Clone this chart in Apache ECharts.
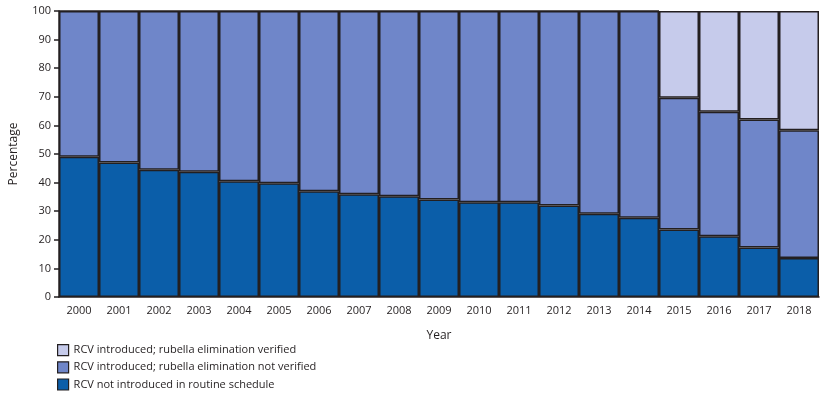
<!DOCTYPE html>
<html><head><meta charset="utf-8">
<script src="https://cdn.jsdelivr.net/npm/echarts@6/dist/echarts.min.js"></script>
<style>html,body{margin:0;padding:0;background:#fff}#c{width:829px;height:398px}</style>
</head><body><div id="c"></div>
<script>
const years = ['2000','2001','2002','2003','2004','2005','2006','2007','2008','2009','2010','2011','2012','2013','2014','2015','2016','2017','2018'];
const notIntroduced = [49,47,44.5,43.8,40.5,39.8,37,35.9,35.2,34.1,33.1,33.1,32,29.1,27.7,23.6,21.2,17.3,13.6];
const verified = [0,0,0,0,0,0,0,0,0,0,0,0,0,0,0,30.3,35.2,37.9,41.7];
const notVerified = [51,53,55.5,56.2,59.5,60.2,63,64.1,64.8,65.9,66.9,66.9,68,70.9,72.3,46.1,43.6,44.8,44.7];
const yTicks = [0,10,20,30,40,50,60,70,80,90,100];
const names = ['RCV not introduced in routine schedule','RCV introduced; rubella elimination not verified','RCV introduced; rubella elimination verified'];
const legendNames = [names[2], names[1], names[0]];
const colors = ['#0b5ea9','#6f86c9','#c6cbeb'];
const ink = '#231f20';
const font = 'Open Sans';
const chart = echarts.init(document.getElementById('c'));
function s(name, data, color){
  return {name, type:'bar', stack:'t', data, barCategoryGap:'0%', barWidth:'100%',
    itemStyle:{color, borderColor:ink, borderWidth:1.5}, emphasis:{disabled:true}, animation:false};
}
chart.setOption({
  animation:false,
  textStyle:{fontFamily:font},
  grid:{left:58, right:10, top:11, bottom:101, containLabel:false},
  legend:{orient:'vertical', left:57, top:344, height:54, padding:0, itemWidth:11, itemHeight:11, itemGap:5,
    data:legendNames, icon:'rect', selectedMode:false,
    textStyle:{fontFamily:font, fontSize:11, color:ink},
    itemStyle:{borderColor:ink, borderWidth:1.2}},
  xAxis:{type:'category', data:years, name:'Year', nameLocation:'middle', nameGap:33,
    nameTextStyle:{fontFamily:font, fontSize:12, color:ink},
    axisLine:{lineStyle:{color:ink, width:1.5}},
    axisTick:{alignWithLabel:true, length:5, lineStyle:{color:ink, width:1.5}},
    axisLabel:{fontFamily:font, fontSize:11, color:ink, margin:8}},
  yAxis:{type:'value', min:0, max:100, interval:10, name:'Percentage', nameLocation:'middle', nameGap:39,
    nameTextStyle:{fontFamily:font, fontSize:12, color:ink},
    axisLine:{show:true, lineStyle:{color:ink, width:1.5}},
    axisTick:{show:true, length:5, lineStyle:{color:ink, width:1.5}},
    splitLine:{show:false},
    axisLabel:{fontFamily:font, fontSize:11, color:ink, margin:8,
      formatter:v=>yTicks.includes(v)?String(v):''}},
  series:[s(names[0], notIntroduced, colors[0]), s(names[1], notVerified, colors[1]), s(names[2], verified, colors[2])]
});
</script></body></html>
